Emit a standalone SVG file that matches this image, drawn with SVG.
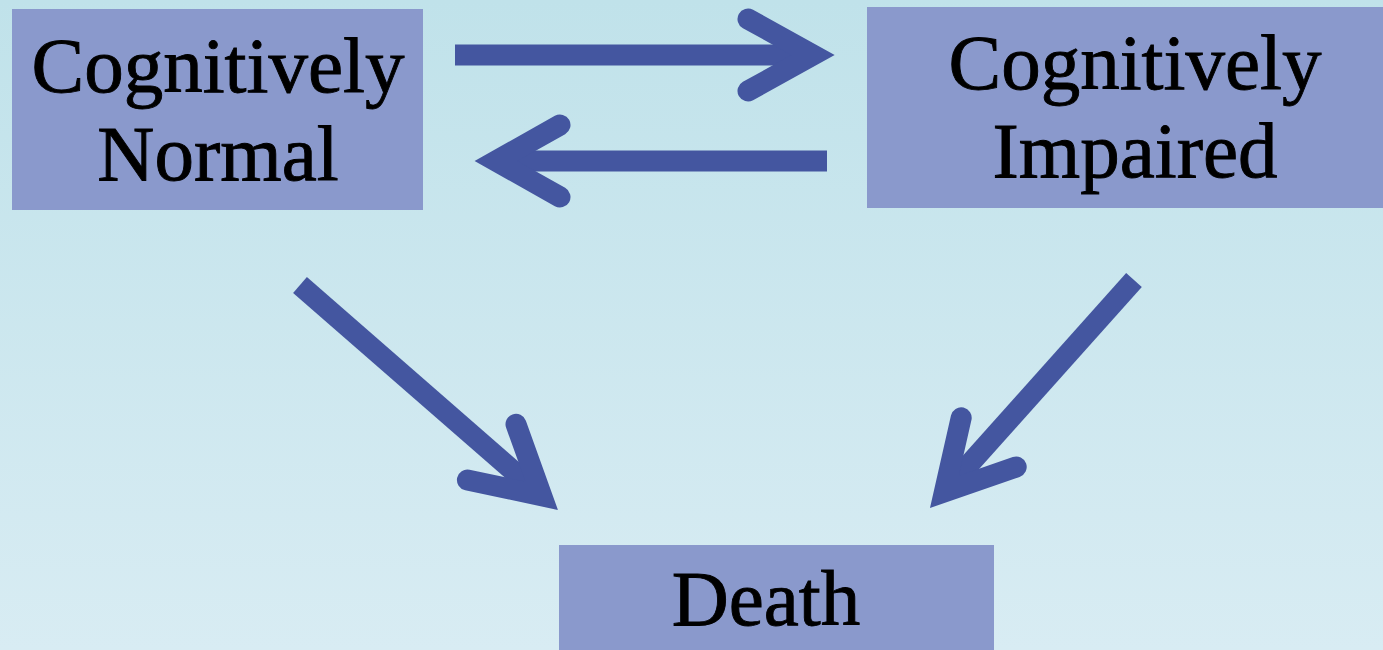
<svg xmlns="http://www.w3.org/2000/svg" width="1383" height="650" viewBox="0 0 1383 650">
<defs>
<linearGradient id="bg" x1="0" y1="0" x2="0" y2="1">
<stop offset="0" stop-color="#C0E2EA"/>
<stop offset="1" stop-color="#D8ECF3"/>
</linearGradient>
<style>
.box{fill:#8A99CC;}
.lbl{font-family:"Liberation Serif","Times New Roman",serif;font-size:79px;fill:#000;stroke:#000;stroke-width:0.9;text-anchor:middle;}
.shaft{stroke:#4456A0;stroke-width:21;fill:none;stroke-linecap:butt;}
.head{stroke:#4456A0;stroke-width:21;fill:none;stroke-linecap:round;stroke-linejoin:miter;stroke-miterlimit:4;}
</style>
</defs>
<rect x="0" y="0" width="1383" height="650" fill="url(#bg)"/>
<g id="normal">
<rect class="box" x="12" y="9" width="411" height="201"/>
<text class="lbl" x="218" y="92">Cognitively</text>
<text class="lbl" x="218" y="180">Normal</text>
</g>
<g id="impaired">
<rect class="box" x="867" y="7" width="530" height="201"/>
<text class="lbl" x="1135" y="89">Cognitively</text>
<text class="lbl" x="1135" y="177">Impaired</text>
</g>
<g id="death">
<rect class="box" x="559" y="545" width="435" height="120"/>
<text class="lbl" x="766" y="625">Death</text>
</g>
<g id="connectors">
<line class="shaft" x1="455" y1="55" x2="813" y2="55"/>
<polyline class="head" points="748,19 813,55 748,91"/>
<line class="shaft" x1="827" y1="161" x2="496" y2="161"/>
<polyline class="head" points="560,125 496,161 560,197"/>
<line class="shaft" x1="300" y1="285" x2="541.7" y2="495.8"/>
<polyline class="head" points="516,424.3 541.7,495.8 467.4,480"/>
<line class="shaft" x1="1134" y1="280" x2="944.4" y2="491.9"/>
<polyline class="head" points="961.2,417.8 944.4,491.9 1016.2,467"/>
</g>
</svg>
